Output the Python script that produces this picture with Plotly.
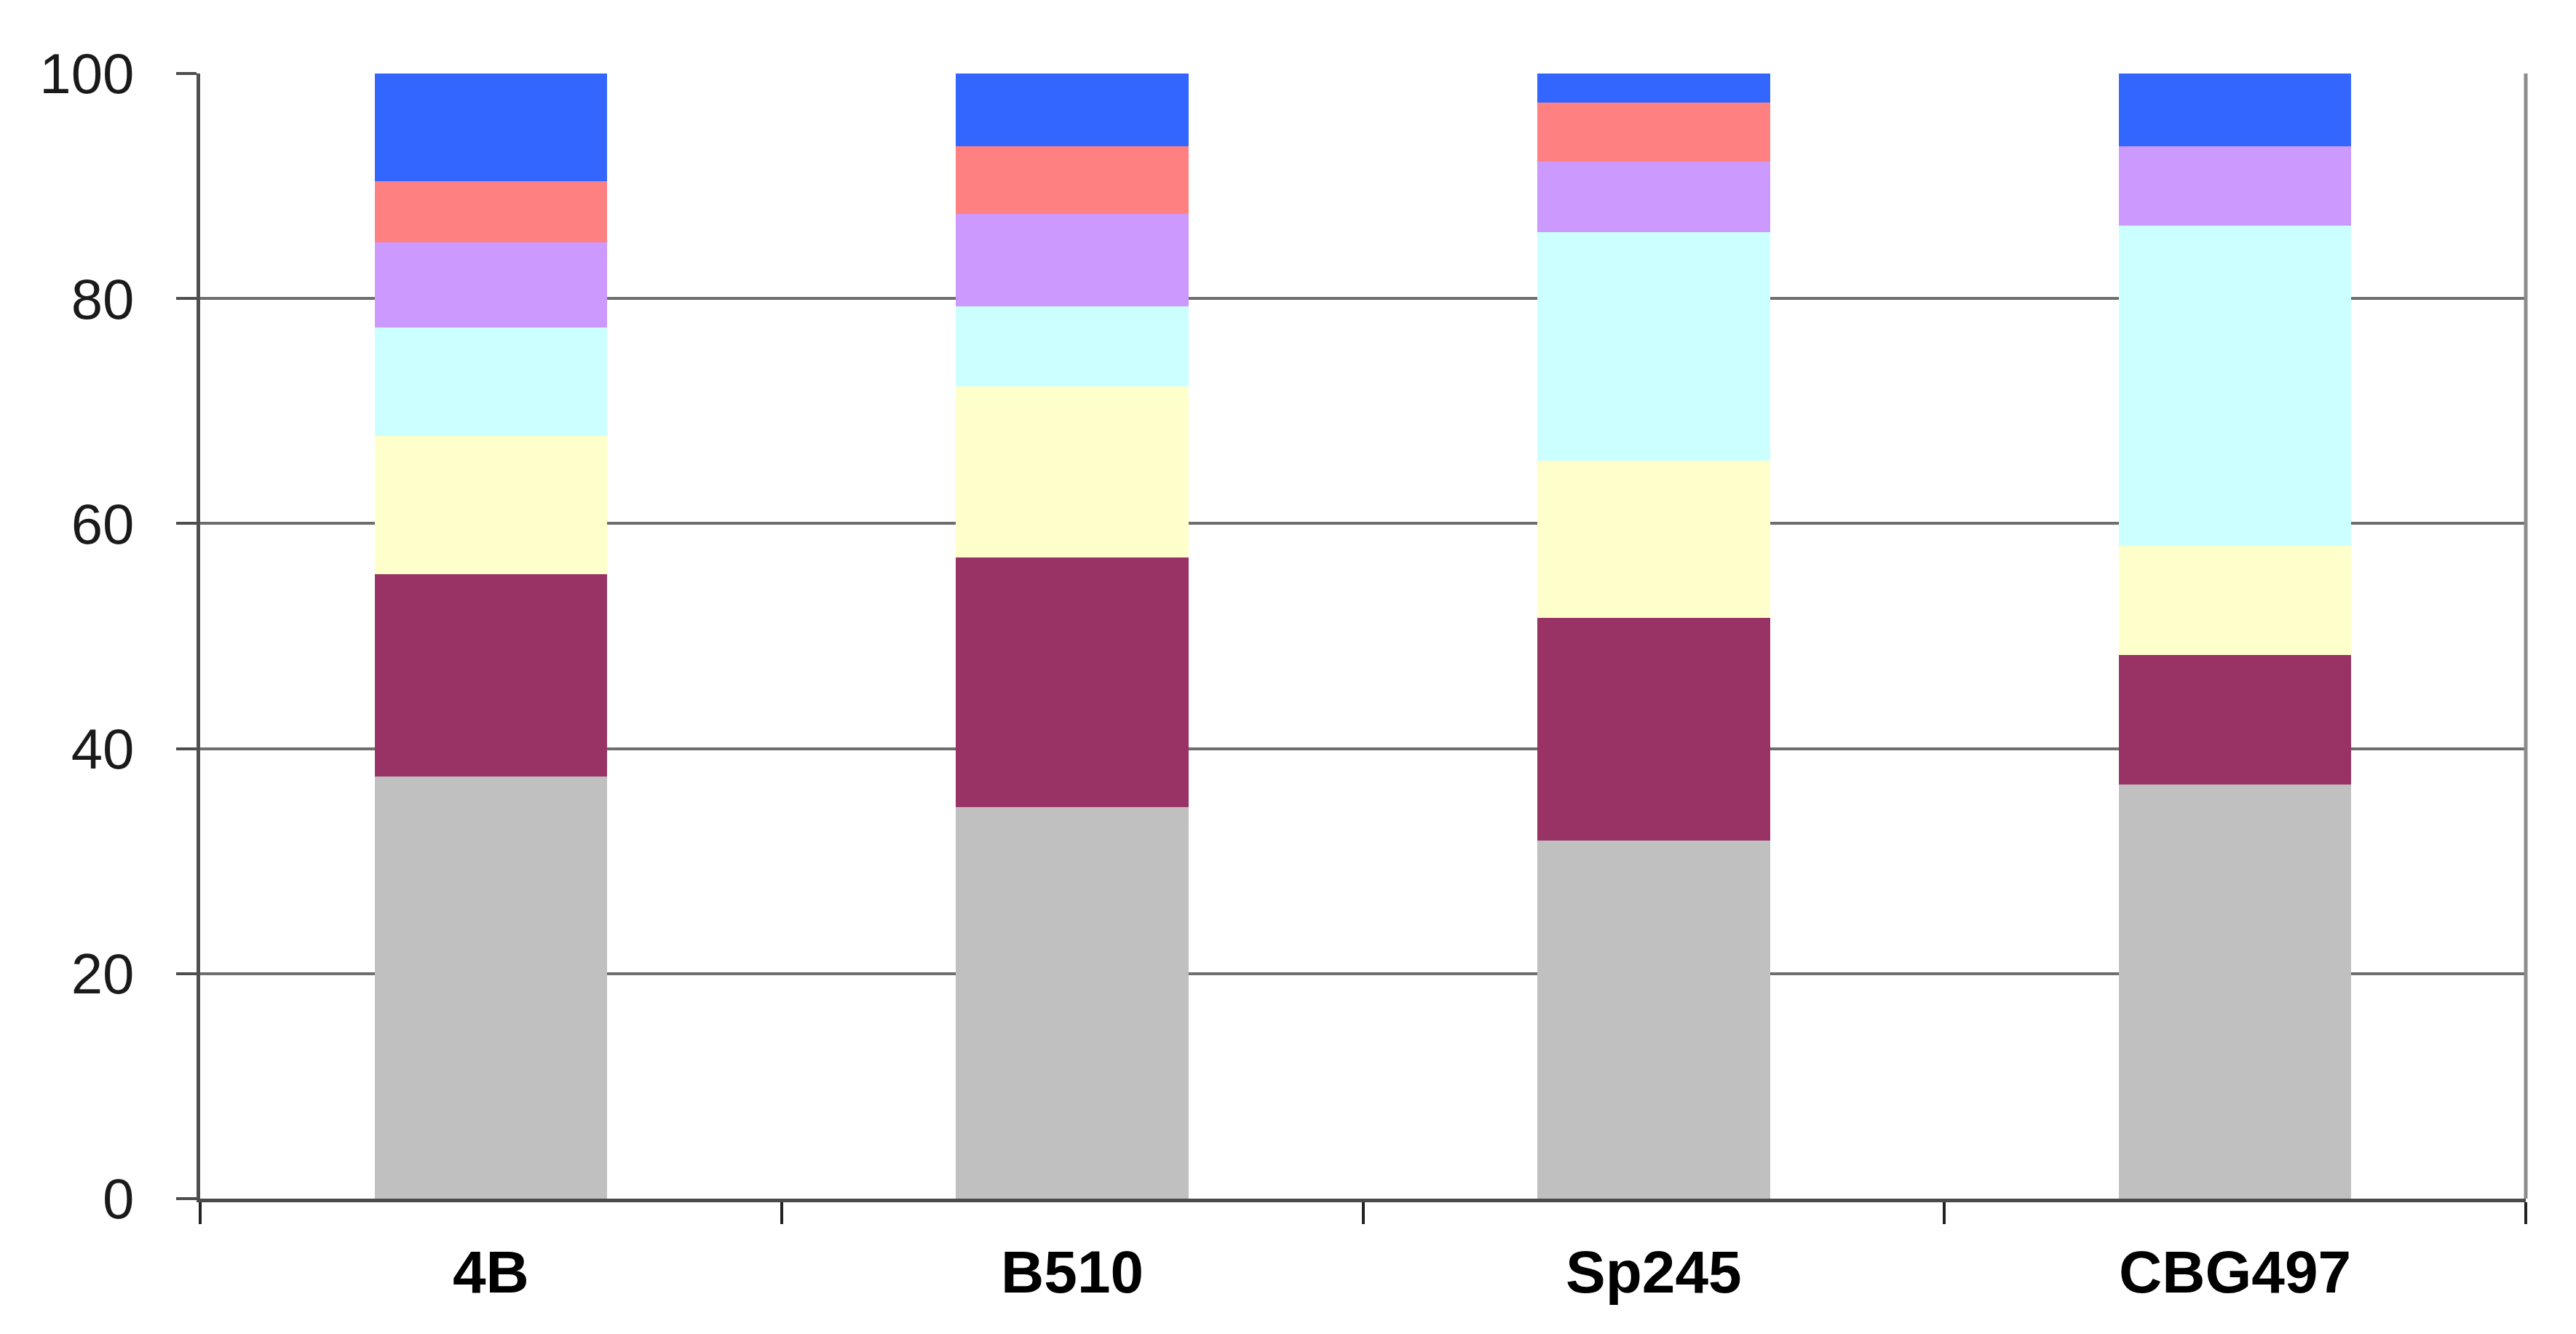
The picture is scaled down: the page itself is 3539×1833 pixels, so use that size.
import plotly.graph_objects as go

# categorias (estirpes)
strains = ['4B', 'B510', 'Sp245', 'CBG497']

# valores de cada segmento, de baixo para cima (%)
gray_vals = [37.5, 34.8, 31.8, 36.8]
maroon_vals = [18.0, 22.2, 19.8, 11.5]
yellow_vals = [12.3, 15.2, 14.0, 9.7]
cyan_vals = [9.6, 7.1, 20.3, 28.5]
purple_vals = [7.6, 8.2, 6.3, 7.0]
red_vals = [5.4, 6.0, 5.2, 0.0]
blue_vals = [9.6, 6.5, 2.6, 6.5]

y_ticks = [0, 20, 40, 60, 80, 100]

series = [
    ('Série 1', gray_vals, '#C0C0C0'),
    ('Série 2', maroon_vals, '#993366'),
    ('Série 3', yellow_vals, '#FFFFCC'),
    ('Série 4', cyan_vals, '#CCFFFF'),
    ('Série 5', purple_vals, '#CC99FF'),
    ('Série 6', red_vals, '#FF8080'),
    ('Série 7', blue_vals, '#3366FF'),
]

fig = go.Figure()
for nome, vals, cor in series:
    fig.add_trace(go.Bar(x=strains, y=vals, name=nome,
                         marker=dict(color=cor, line=dict(width=0))))

fig.update_layout(
    barmode='stack',
    bargap=0.6,
    showlegend=False,
    width=3539, height=1833,
    margin=dict(l=267, r=77, t=93, b=194),
    paper_bgcolor='white',
    plot_bgcolor='white',
    font=dict(family='Liberation Sans, Arial, sans-serif', color='#000000'),
)

fig.update_xaxes(
    type='category',
    tickson='boundaries',
    ticks='outside', ticklen=30, tickwidth=4, tickcolor='#222222',
    showline=True, linecolor='#4a4a4a', linewidth=5,
    showgrid=False,
    tickfont=dict(size=82, family='Liberation Sans, Arial, sans-serif', weight='bold'),
    ticklabelstandoff=26,
)

fig.update_yaxes(
    range=[0, 100],
    tickvals=y_ticks,
    ticks='outside', ticklen=28, tickwidth=4, tickcolor='#4d4d4d',
    showline=True, linecolor='#505050', linewidth=5,
    showgrid=True, gridcolor='#6e6e6e', gridwidth=4,
    zeroline=False,
    tickfont=dict(size=78, color='#1a1a1a'),
    ticklabelstandoff=42,
)

# borda direita da área do gráfico
fig.add_shape(type='line', xref='x domain', yref='y domain',
              x0=1, x1=1, y0=0, y1=1,
              line=dict(color='#8c8c8c', width=5))

fig.write_html('out.html')
